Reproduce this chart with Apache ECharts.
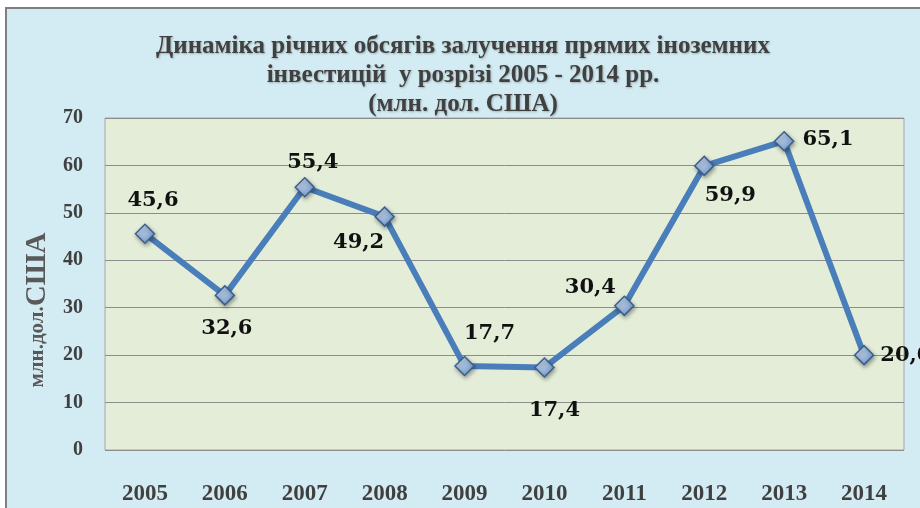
<!DOCTYPE html>
<html>
<head>
<meta charset="utf-8">
<script src="https://cdn.jsdelivr.net/npm/echarts@6/dist/echarts.min.js"></script>
<style>
  html, body { margin: 0; padding: 0; background: #ffffff; }
  #chart { width: 920px; height: 508px; }
</style>
</head>
<body>
<div id="chart"></div>
<script>
var years = ['2005', '2006', '2007', '2008', '2009', '2010', '2011', '2012', '2013', '2014'];
var values = [45.6, 32.6, 55.4, 49.2, 17.7, 17.4, 30.4, 59.9, 65.1, 20.0];
// where each value label sits around its point
var labelPos = ['top', 'bottom', 'top', 'bottom', 'top', 'bottom', 'top', 'bottom', 'right', 'right'];
var labelShift = [[8, 0], [2, 0], [8, 8], [-26, -7], [25, 0], [10, 10], [-34, 14], [26, -3], [-4, -2], [-6, 0]];

var chart = echarts.init(document.getElementById('chart'));

var seriesData = values.map(function (v, i) {
  return {
    value: v,
    label: { position: labelPos[i], offset: labelShift[i] }
  };
});

chart.setOption({
  backgroundColor: '#ffffff',
  graphic: [{
    type: 'rect',
    shape: { x: 6, y: 8, width: 930, height: 520 },
    style: { fill: '#d3ebf2', stroke: '#7f7f7f', lineWidth: 2 },
    z: -10
  }],
  title: {
    text: 'Динаміка річних обсягів залучення прямих іноземних\nінвестицій  у розрізі 2005 - 2014 рр.\n(млн. дол. США)',
    left: 458,
    textAlign: 'center',
    top: 27,
    textStyle: {
      fontFamily: 'Liberation Serif',
      fontWeight: 'bold',
      fontSize: 25,
      lineHeight: 29,
      color: '#404040',
      textShadowColor: 'rgba(0,0,0,0.25)',
      textShadowBlur: 2,
      textShadowOffsetX: 1,
      textShadowOffsetY: 1
    }
  },
  grid: {
    left: 105,
    right: 16,
    top: 118,
    bottom: 58,
    show: true,
    backgroundColor: '#e3edd8',
    borderColor: '#a6a6a6',
    borderWidth: 1
  },
  xAxis: {
    type: 'category',
    data: years,
    boundaryGap: true,
    axisLine: { show: false },
    axisTick: { show: false },
    axisLabel: {
      margin: 33,
      fontFamily: 'Liberation Serif',
      fontWeight: 'bold',
      fontSize: 23,
      color: '#404040'
    }
  },
  yAxis: {
    type: 'value',
    min: 0,
    max: 70,
    interval: 10,
    name: '{a|млн.дол.}{b|США}',
    nameLocation: 'middle',
    nameGap: 48,
    nameTextStyle: {
      padding: [0, 52, 0, 0],
      rich: {
        a: {
          fontFamily: 'Liberation Serif',
          fontWeight: 'bold',
          fontSize: 21,
          color: '#595959'
        },
        b: {
          fontFamily: 'Liberation Serif',
          fontWeight: 'bold',
          fontSize: 29,
          color: '#595959'
        }
      }
    },
    axisLine: { show: false },
    axisTick: { show: false },
    splitLine: { lineStyle: { color: '#8c8c8c', width: 1 } },
    axisLabel: {
      margin: 22,
      fontFamily: 'Liberation Serif',
      fontWeight: 'bold',
      fontSize: 20,
      color: '#404040'
    }
  },
  series: [{
    type: 'line',
    data: seriesData,
    symbol: 'diamond',
    symbolSize: 19,
    lineStyle: { color: '#4a7ebb', width: 6 },
    itemStyle: {
      color: new echarts.graphic.LinearGradient(0, 0, 1, 1, [
        { offset: 0, color: '#dde8f5' },
        { offset: 1, color: '#6690c6' }
      ]),
      borderColor: '#3a5f8f',
      borderWidth: 1.5,
      shadowColor: 'rgba(0,0,0,0.35)',
      shadowBlur: 4,
      shadowOffsetX: 1,
      shadowOffsetY: 2
    },
    label: {
      show: true,
      distance: 12,
      formatter: function (p) {
        return p.value.toFixed(1).replace('.', ',');
      },
      fontFamily: 'DejaVu Serif',
      fontWeight: 'bold',
      fontSize: 21,
      color: '#111111'
    }
  }]
});
</script>
</body>
</html>
